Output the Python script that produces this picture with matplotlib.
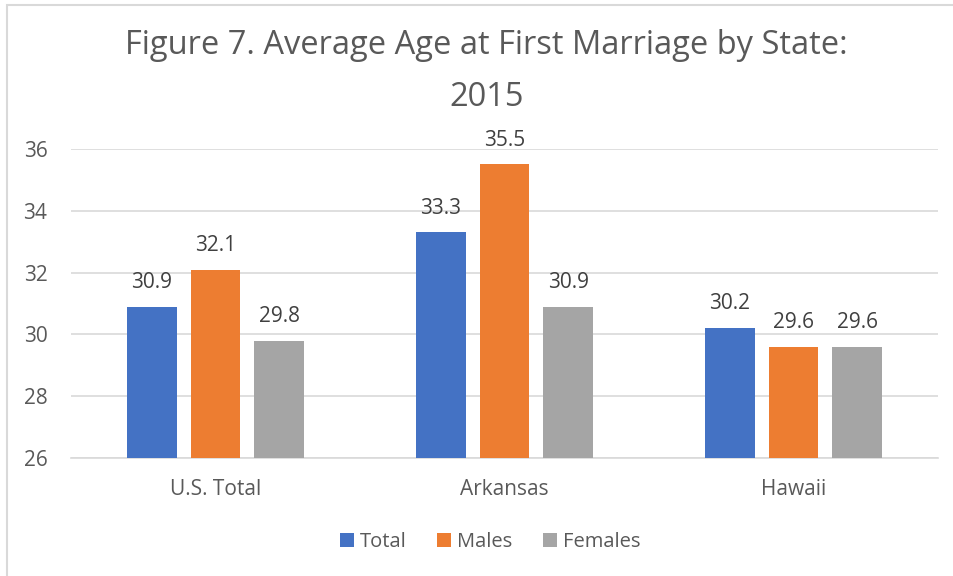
import matplotlib
matplotlib.use("Agg")
import matplotlib.pyplot as plt
from matplotlib.patches import Rectangle
import numpy as np

categories = ["U.S. Total", "Arkansas", "Hawaii"]
series_names = ["Total", "Males", "Females"]
total = [30.9, 33.3, 30.2]
males = [32.1, 35.5, 29.6]
females = [29.8, 30.9, 29.6]
yticks = [26, 28, 30, 32, 34, 36]
title_lines = ["Figure 7. Average Age at First Marriage by State:", "2015"]

colors = ["#4472C4", "#ED7D31", "#A5A5A5"]
text_color = "#595959"
plt.rcParams['font.family'] = ['Open Sans', 'DejaVu Sans']

W, H = 954, 576
fig = plt.figure(figsize=(W / 100, H / 100), dpi=100)

# chart border
fig.patches.append(Rectangle((7 / W, -0.01), 1.02, 1 - 5 / H + 0.01, transform=fig.transFigure,
                             fill=False, edgecolor="#D9D9D9", linewidth=1.5))

left, right = 71 / W, 938 / W
bottom, top = 1 - 458 / H, 1 - 149 / H
ax = fig.add_axes([left, bottom, right - left, top - bottom])

x = np.arange(len(categories))
bw = 0.173
off = 0.221
for i, (vals, c, name) in enumerate(zip([total, males, females], colors, series_names)):
    pos = x + (i - 1) * off
    ax.bar(pos, np.array(vals) - 26, bottom=26, width=bw, color=c, label=name, zorder=3)
    for p, v in zip(pos, vals):
        ax.text(p, v + 0.45, f"{v:.1f}", ha="center", va="bottom", fontsize=15, color="#404040")

ax.set_xlim(-0.5, 2.5)
ax.set_ylim(26, 36)
ax.set_yticks(yticks)
ax.set_yticklabels([str(t) for t in yticks], fontsize=15, color=text_color)
ax.set_xticks(x)
ax.set_xticklabels(categories, fontsize=15, color=text_color)
ax.tick_params(axis="both", length=0)
ax.tick_params(axis="y", pad=17)
ax.tick_params(axis="x", pad=15)
ax.grid(axis="y", color="#D9D9D9", linewidth=1.2, zorder=0)
for s in ["top", "right", "left"]:
    ax.spines[s].set_visible(False)
ax.spines["bottom"].set_color("#D9D9D9")
ax.spines["bottom"].set_linewidth(1.2)

fig.text(486 / W, 1 - 46 / H, title_lines[0], ha="center", va="center", fontsize=23.5,
         color=text_color)
fig.text(487 / W, 1 - 97 / H, title_lines[1], ha="center", va="center", fontsize=23.5,
         color=text_color)

fig.legend(loc="center", bbox_to_anchor=(490 / W, 1 - 542 / H), ncol=3, frameon=False,
           fontsize=14.5, labelcolor=text_color, handlelength=0.7, handleheight=0.7,
           handletextpad=0.3, columnspacing=1.5)

fig.savefig("out.png", dpi=100, facecolor="white")
